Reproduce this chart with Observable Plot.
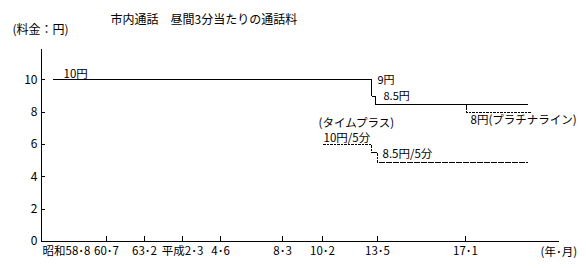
<!DOCTYPE html>
<html><head><meta charset="utf-8">
<script src="https://cdn.jsdelivr.net/npm/d3@7"></script>
<script src="https://cdn.jsdelivr.net/npm/@observablehq/plot@0.6"></script>
<style>
body{margin:0;background:#fff;}
svg{font-family:"Noto Sans CJK JP","Noto Sans",sans-serif;}
</style>
</head><body>
<div id="chart"></div>
<script>
// x positions are read from the picture on the chart's (non-linear) date axis
const tickLabels = ["昭和58･8","60･7","63･2","平成2･3","4･6","8･3","10･2","13･5","17･1"];
const tickPos    = [25, 65, 103, 141, 179, 241, 281, 336, 424];
const yTicks = [0, 2, 4, 6, 8, 10];

// 通常料金 (solid)
const normalX = [12, 330, 334, 486];
const normalY = [10, 9, 8.5, 8.5];
// プラチナライン (dashed)
const platX = [425, 425, 490];
const platY = [8.5, 8, 8];
// タイムプラス (dashed, per 3 min)
const timeX = [282, 330, 336, 486];
const timeY = [6, 5.5, 4.9, 4.9];

const labelText = ["10円","9円","8.5円","8円(プラチナライン)","(タイムプラス)","10円/5分","8.5円/5分"];
const labelX = [22, 336, 342, 429, 277, 282, 341];
const labelY = [10.33, 9.96, 8.98, 7.48, 7.34, 6.40, 5.38];
const labelSize = [11.5, 11, 11, 11.5, 11.5, 11.5, 11.5];

const toRows = (xs, ys) => xs.map((x, i) => ({x, y: ys[i]}));
const labels = labelText.map((t, i) => ({t, x: labelX[i], y: labelY[i], s: labelSize[i]}));
const fmt = new Map(tickPos.map((p, i) => [p, tickLabels[i]]));

const chart = Plot.plot({
  width: 586, height: 268,
  marginLeft: 41, marginRight: 27, marginTop: 47, marginBottom: 27,
  style: {fontSize: "12px", fontFamily: '"Noto Sans CJK JP","Noto Sans",sans-serif', color: "#000"},
  x: {domain: [0, 518], axis: null},
  y: {domain: [0, 12], axis: null},
  marks: [
    Plot.axisX({ticks: tickPos, tickFormat: d => fmt.get(d), tickSize: 0, tickPadding: 5, fontSize: 11.5, fill: "#000", label: null}),
    Plot.axisY({ticks: yTicks, tickSize: 0, tickPadding: 4, fontSize: 12, fill: "#000", label: null}),
    Plot.ruleX([0], {y1: 0, y2: 11.9, stroke: "#000", shapeRendering: "crispEdges"}),
    Plot.ruleY([0], {x1: 0, x2: 518, stroke: "#000", shapeRendering: "crispEdges"}),
    Plot.ruleX(tickPos.slice(1), {y1: 0, y2: 0.31, stroke: "#000", shapeRendering: "crispEdges"}),
    Plot.ruleY(yTicks.slice(1), {x1: 0, x2: 4, stroke: "#000", shapeRendering: "crispEdges"}),
    Plot.line(toRows(normalX, normalY), {x: "x", y: "y", curve: "step-after", stroke: "#000", strokeWidth: 1, shapeRendering: "crispEdges"}),
    Plot.line(toRows(platX, platY), {x: "x", y: "y", curve: "step-after", stroke: "#000", strokeWidth: 1, strokeDasharray: "2,1.5", shapeRendering: "crispEdges"}),
    Plot.line(toRows(timeX, timeY), {x: "x", y: "y", curve: "step-after", stroke: "#000", strokeWidth: 1, strokeDasharray: "2,1.5", shapeRendering: "crispEdges"}),
    Plot.text(labels, {x: "x", y: "y", text: "t", fontSize: "s", textAnchor: "start", lineAnchor: "middle", fill: "#000"}),
    Plot.text(["(年･月)"], {x: 499, y: -0.68, textAnchor: "start", lineAnchor: "middle", fill: "#000", fontSize: 11.5}),
    Plot.text(["市内通話　昼間3分当たりの通話料"], {x: 69, y: 13.67, textAnchor: "start", lineAnchor: "middle", fill: "#000", fontSize: 12}),
    Plot.text(["(料金：円)"], {x: -29, y: 13.05, textAnchor: "start", lineAnchor: "middle", fill: "#000", fontSize: 12})
  ]
});
document.getElementById("chart").append(chart);
</script>
</body></html>
